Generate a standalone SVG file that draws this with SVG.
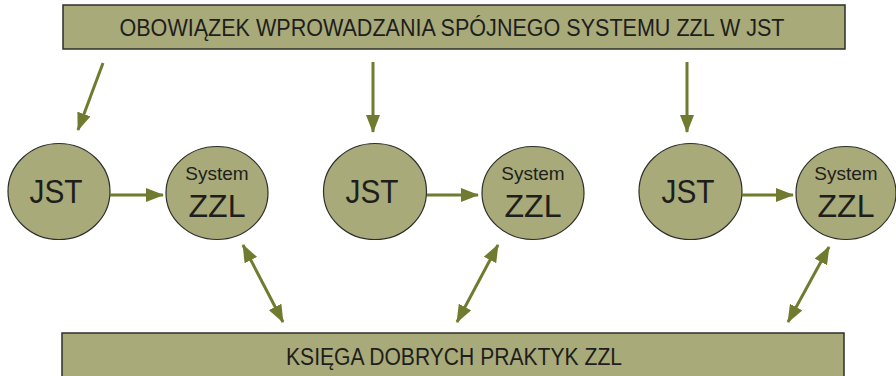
<svg xmlns="http://www.w3.org/2000/svg" width="896" height="376" viewBox="0 0 896 376">
<defs>
<style>
.box{fill:#a8aa79;stroke:#2e2e2a;stroke-width:1.5}
.node{fill:#a8aa79;stroke:#2e2e2a;stroke-width:1.2}
.t{font-family:"Liberation Sans",Arial,sans-serif;fill:#1e1e1c;text-anchor:middle}
.c{stroke:#717b2f;stroke-width:3;fill:none}
.end{marker-end:url(#ah)}
.both{marker-start:url(#ahs);marker-end:url(#ah)}
</style>
<marker id="ah" viewBox="0 0 18 14" refX="17" refY="7" markerWidth="18" markerHeight="14" markerUnits="userSpaceOnUse" orient="auto">
<path d="M0,0 L18,7 L0,14 Z" fill="#717b2f"/>
</marker>
<marker id="ahs" viewBox="0 0 18 14" refX="1" refY="7" markerWidth="18" markerHeight="14" markerUnits="userSpaceOnUse" orient="auto">
<path d="M18,0 L0,7 L18,14 Z" fill="#717b2f"/>
</marker>
</defs>
<rect width="896" height="376" fill="#ffffff"/>
<g id="top">
<rect class="box" x="63" y="5" width="782" height="44"/>
<text class="t" x="452" y="36" font-size="23" textLength="665" lengthAdjust="spacingAndGlyphs">OBOWIĄZEK WPROWADZANIA SPÓJNEGO SYSTEMU ZZL W JST</text>
</g>
<g id="bottom">
<rect class="box" x="62" y="333" width="782" height="50"/>
<text class="t" x="454" y="365" font-size="23" textLength="336" lengthAdjust="spacingAndGlyphs">KSIĘGA DOBRYCH PRAKTYK ZZL</text>
</g>
<g id="jst1"><ellipse class="node" cx="59" cy="191.5" rx="51" ry="48"/><text class="t" x="56" y="203" font-size="33" textLength="53" lengthAdjust="spacingAndGlyphs">JST</text></g>
<g id="zzl1"><ellipse class="node" cx="217" cy="193" rx="51" ry="46.5"/><text class="t" x="217" y="180" font-size="19">System</text><text class="t" x="217" y="217" font-size="32" textLength="57" lengthAdjust="spacingAndGlyphs">ZZL</text></g>
<g id="jst2"><ellipse class="node" cx="375" cy="191.5" rx="51.5" ry="48"/><text class="t" x="372" y="203" font-size="33" textLength="53" lengthAdjust="spacingAndGlyphs">JST</text></g>
<g id="zzl2"><ellipse class="node" cx="533" cy="193" rx="51" ry="46.5"/><text class="t" x="533" y="180" font-size="19">System</text><text class="t" x="533" y="217" font-size="32" textLength="57" lengthAdjust="spacingAndGlyphs">ZZL</text></g>
<g id="jst3"><ellipse class="node" cx="690.5" cy="191.5" rx="51.5" ry="48"/><text class="t" x="688" y="203" font-size="33" textLength="53" lengthAdjust="spacingAndGlyphs">JST</text></g>
<g id="zzl3"><ellipse class="node" cx="846" cy="193" rx="50" ry="46.5"/><text class="t" x="846" y="180" font-size="19">System</text><text class="t" x="846" y="217" font-size="32" textLength="57" lengthAdjust="spacingAndGlyphs">ZZL</text></g>
<g id="connectors">
<line class="c end" x1="103" y1="63" x2="78" y2="130"/>
<line class="c end" x1="373" y1="62" x2="373" y2="132"/>
<line class="c end" x1="687" y1="62" x2="687" y2="132"/>
<line class="c end" x1="110" y1="195" x2="163" y2="195"/>
<line class="c end" x1="427" y1="195" x2="478" y2="195"/>
<line class="c end" x1="742" y1="195" x2="793" y2="195"/>
<line class="c both" x1="243" y1="245" x2="283" y2="322"/>
<line class="c both" x1="498" y1="245" x2="457" y2="322"/>
<line class="c both" x1="829" y1="247" x2="788" y2="322"/>
</g>
</svg>
